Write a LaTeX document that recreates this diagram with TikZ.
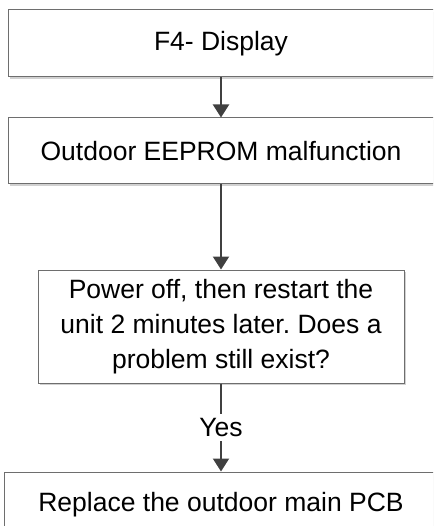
\documentclass[tikz,border=0pt]{standalone}
\usepackage{fontspec}
\setmainfont{Liberation Sans}
\usetikzlibrary{arrows.meta, shadows}
\definecolor{edgegray}{HTML}{6E6E6E}
\definecolor{arrowgray}{HTML}{404040}
\frenchspacing
\tikzset{
  box/.style  ={draw=edgegray, line width=1pt, fill=white, align=center,
                inner sep=0pt, font=\fontsize{26.5}{35}\selectfont,
                drop shadow={shadow xshift=2pt, shadow yshift=-2pt,
                             fill=black!18, opacity=1}},
  arr/.style  ={-{Triangle[length=13pt, width=16pt]}, draw=arrowgray,
                fill=arrowgray, line width=2pt},
  lbl/.style  ={fill=white, inner sep=4pt, font=\fontsize{26.5}{35}\selectfont},
}

\begin{document}
\begin{tikzpicture}[x=1pt, y=-1pt]
  \useasboundingbox (0,0) rectangle (433,526);
  \clip (0,0) rectangle (433,526);

  \node[box, minimum width=426pt, minimum height=67pt]  (disp)  at (221,43.5)  {F4- Display};
  \node[box, minimum width=426pt, minimum height=66pt]  (eep)   at (221,151)   {Outdoor EEPROM malfunction};
  \node[box, minimum width=366pt, minimum height=113pt] (check) at (221,326.5)
       {Power off, then restart the\\unit 2 minutes later. Does a\\problem still exist?};
  \node[box, minimum width=434pt, minimum height=66pt]  (pcb)   at (221,505)   {Replace the outdoor main PCB};

  \draw[arr] (disp)  -- (eep);
  \draw[arr] (eep)   -- (check);
  \draw[arr] (check) -- node[lbl]{Yes} (pcb);
\end{tikzpicture}
\end{document}
